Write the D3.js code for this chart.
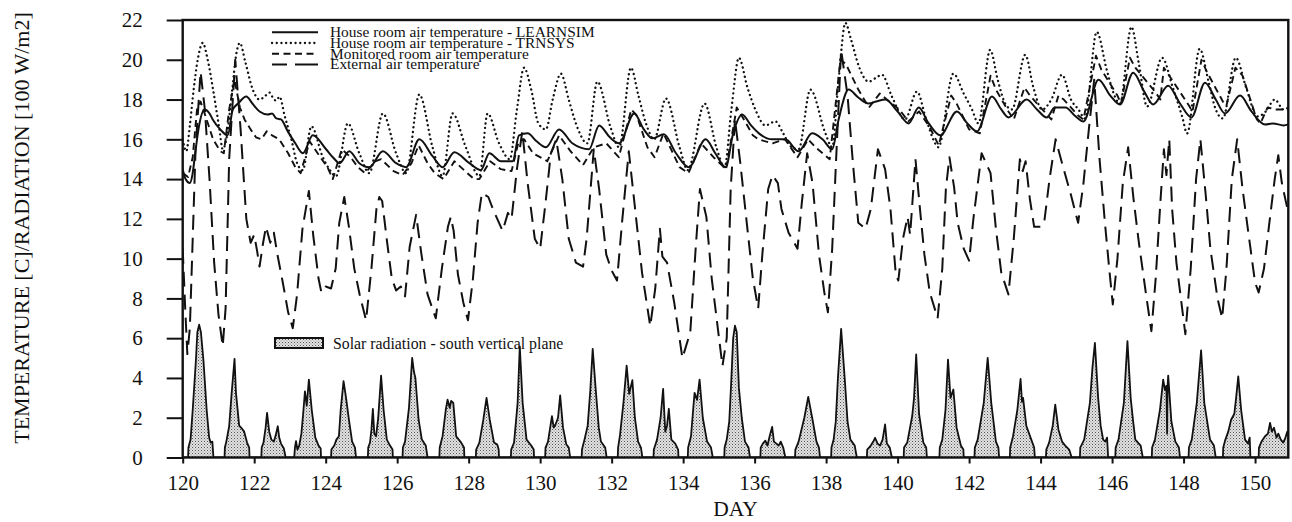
<!DOCTYPE html>
<html>
<head>
<meta charset="utf-8">
<script src="https://cdn.jsdelivr.net/npm/d3@7/dist/d3.min.js"></script>
<style>
  html, body { margin: 0; padding: 0; background: #fff; }
  svg { display: block; }
  text { font-family: "Liberation Serif", "Times New Roman", serif; fill: #111; }
</style>
</head>
<body>
<svg id="chart" width="1292" height="522"></svg>
<script>
// ---------------- DATA ----------------
const xTicks = [120,122,124,126,128,130,132,134,136,138,140,142,144,146,148,150];
const yTicks = [0,2,4,6,8,10,12,14,16,18,20,22];
const xDomain = [120, 150.93];
const yDomain = [0, 22];

const seriesNames = [
  "House room air temperature - LEARNSIM",
  "House room air temperature - TRNSYS",
  "Monitored room air temperature",
  "External air temperature"
];
const solarName = "Solar radiation - south vertical plane";
const xTitle = "DAY";
const yTitle = "TEMPERATURE [C]/RADIATION [100 W/m2]";

// [day, value]
const learnsim = [[120.0,14.5],[120.08,14.0],[120.2,13.8],[120.27,14.2],[120.35,15.3],[120.45,16.6],[120.61,17.5],[120.75,17.3],[120.84,17.0],[121.05,16.5],[121.26,16.2],[121.4,17.5],[121.55,17.8],[121.78,18.15],[121.95,17.8],[122.15,17.4],[122.38,17.25],[122.5,17.3],[122.62,17.05],[122.75,17.0],[122.94,16.4],[123.15,15.8],[123.36,15.3],[123.64,16.2],[124.01,15.5],[124.2,15.1],[124.39,14.8],[124.66,15.4],[124.94,14.8],[125.22,14.6],[125.6,15.4],[125.97,14.8],[126.25,14.6],[126.62,16.0],[126.99,15.15],[127.27,14.6],[127.6,15.35],[128.02,14.8],[128.34,14.45],[128.58,15.3],[128.9,14.9],[129.23,14.9],[129.41,16.2],[129.65,16.3],[129.9,15.9],[130.16,15.6],[130.53,16.5],[130.9,15.8],[131.37,15.5],[131.65,16.7],[131.95,16.1],[132.21,15.8],[132.63,17.3],[132.9,16.5],[133.14,16.05],[133.46,16.25],[133.8,15.3],[134.16,14.6],[134.63,16.0],[134.9,15.3],[135.19,14.6],[135.4,16.3],[135.65,17.25],[135.9,16.7],[136.12,16.3],[136.49,16.0],[136.86,16.0],[137.23,15.4],[137.61,16.3],[137.9,16.0],[138.17,15.5],[138.35,17.0],[138.63,18.5],[138.9,18.1],[139.19,17.8],[139.4,17.9],[139.66,18.0],[140.0,17.4],[140.31,16.8],[140.59,17.6],[140.87,16.8],[141.19,16.2],[141.66,17.4],[141.95,16.8],[142.22,16.4],[142.64,18.15],[142.9,17.5],[143.1,17.1],[143.61,18.0],[143.9,17.5],[144.17,17.1],[144.4,17.6],[144.7,17.6],[144.95,17.2],[145.2,16.9],[145.62,19.0],[145.95,18.2],[146.22,17.75],[146.59,19.35],[146.9,18.4],[147.15,17.75],[147.57,18.7],[147.9,17.8],[148.22,17.1],[148.6,18.85],[148.9,18.0],[149.16,17.3],[149.58,18.2],[149.9,17.4],[150.28,16.75],[150.5,16.8],[150.8,16.7],[150.93,16.75]];

const trnsys = [[120.0,16.0],[120.1,15.4],[120.2,16.7],[120.3,18.4],[120.42,20.0],[120.56,20.85],[120.7,20.0],[120.85,18.5],[121.02,16.6],[121.12,15.5],[121.22,16.0],[121.38,18.4],[121.5,20.3],[121.6,20.85],[121.75,19.9],[121.96,18.5],[122.15,18.0],[122.29,18.15],[122.43,18.35],[122.55,18.0],[122.62,17.95],[122.71,18.15],[122.85,17.2],[123.04,16.0],[123.2,14.8],[123.36,14.45],[123.6,16.65],[123.92,15.1],[124.1,14.5],[124.29,14.15],[124.62,16.8],[124.94,15.3],[125.22,14.3],[125.6,17.3],[125.97,15.3],[126.25,14.3],[126.62,18.25],[126.99,15.6],[127.27,14.15],[127.55,17.3],[127.92,15.6],[128.3,14.15],[128.53,17.3],[128.85,15.8],[129.15,15.0],[129.35,17.5],[129.55,19.6],[129.75,18.5],[129.95,16.8],[130.16,16.5],[130.35,18.0],[130.58,19.3],[130.8,18.0],[131.0,16.8],[131.32,15.8],[131.6,18.9],[131.97,16.6],[132.21,15.6],[132.54,19.6],[132.75,18.2],[132.96,16.8],[133.19,16.0],[133.52,18.05],[133.9,15.6],[134.13,14.45],[134.6,17.8],[134.93,15.6],[135.16,14.6],[135.35,17.5],[135.56,20.1],[135.8,18.6],[136.02,17.5],[136.3,16.7],[136.58,16.9],[136.8,16.3],[137.04,15.6],[137.23,15.5],[137.56,18.5],[137.98,16.3],[138.17,15.6],[138.35,19.0],[138.54,21.85],[138.7,21.0],[138.92,19.65],[139.19,18.9],[139.4,19.1],[139.56,19.25],[139.84,18.15],[140.21,17.0],[140.54,18.4],[140.8,17.0],[141.05,15.8],[141.14,15.6],[141.56,19.3],[141.85,18.3],[142.08,17.5],[142.26,16.8],[142.59,20.5],[142.8,19.0],[143.01,17.8],[143.2,17.5],[143.57,20.25],[143.8,18.6],[144.04,17.5],[144.3,18.0],[144.6,19.25],[144.85,18.0],[145.06,17.5],[145.24,17.05],[145.57,21.4],[145.85,19.5],[146.08,18.15],[146.22,17.8],[146.54,21.65],[146.75,19.8],[146.98,17.65],[147.4,20.1],[147.7,18.6],[147.96,17.15],[148.1,16.3],[148.45,20.55],[148.7,18.9],[148.9,17.5],[149.1,17.05],[149.46,20.1],[149.75,18.6],[150.07,17.15],[150.3,17.4],[150.55,18.0],[150.8,17.5],[150.93,17.6]];

const monitored = [[120.0,14.3],[120.15,14.1],[120.28,15.1],[120.4,17.5],[120.5,17.9],[120.65,17.1],[120.85,16.0],[121.05,15.4],[121.15,15.3],[121.3,17.5],[121.45,19.0],[121.6,17.6],[121.73,17.0],[121.9,16.5],[122.05,16.1],[122.2,16.0],[122.35,16.4],[122.5,16.2],[122.7,16.0],[122.95,15.3],[123.15,14.6],[123.3,14.3],[123.55,15.9],[123.85,15.1],[124.05,14.6],[124.2,14.0],[124.45,15.5],[124.7,15.1],[124.9,14.6],[125.1,14.3],[125.4,14.9],[125.55,15.0],[125.9,14.4],[126.15,14.2],[126.4,14.8],[126.6,15.7],[126.85,14.8],[127.05,14.3],[127.3,14.0],[127.6,14.9],[127.9,14.4],[128.15,14.0],[128.3,14.0],[128.6,14.9],[128.9,14.5],[129.2,14.4],[129.4,15.9],[129.55,16.0],[129.8,15.3],[130.2,14.9],[130.53,16.2],[130.85,15.4],[131.2,14.7],[131.5,15.6],[131.85,15.8],[132.2,15.1],[132.55,17.5],[132.7,17.2],[133.0,15.6],[133.2,15.1],[133.45,16.3],[133.9,14.6],[134.15,14.3],[134.5,15.8],[134.85,15.1],[135.2,14.5],[135.5,17.6],[135.7,17.0],[135.95,16.2],[136.1,16.0],[136.5,15.8],[136.85,16.0],[137.2,15.1],[137.5,16.0],[137.7,15.6],[138.1,15.0],[138.4,20.0],[138.55,19.8],[138.9,18.5],[139.2,17.6],[139.5,18.3],[139.7,18.0],[140.05,17.5],[140.3,16.9],[140.6,17.4],[140.9,16.6],[141.15,15.7],[141.5,18.2],[141.65,17.8],[142.0,16.5],[142.3,16.3],[142.6,19.2],[142.75,18.5],[143.1,17.4],[143.25,17.0],[143.55,18.6],[143.7,18.2],[144.1,17.4],[144.3,17.0],[144.5,18.2],[144.65,18.0],[145.05,17.2],[145.2,17.0],[145.55,20.2],[145.7,19.5],[146.15,18.2],[146.25,17.8],[146.5,20.1],[146.65,19.6],[147.2,18.4],[147.35,18.0],[147.45,19.6],[147.6,19.2],[148.15,17.7],[148.25,17.4],[148.5,20.0],[148.65,19.4],[149.1,17.9],[149.2,17.7],[149.45,19.6],[149.65,19.2],[150.05,17.0],[150.15,16.8],[150.35,17.6],[150.6,17.5],[150.93,17.5]];

const external = [[120.0,10.5],[120.07,7.5],[120.13,5.2],[120.2,6.5],[120.28,11.0],[120.36,15.5],[120.5,19.4],[120.62,17.5],[120.75,14.0],[120.88,9.8],[121.0,7.2],[121.12,5.6],[121.2,7.5],[121.3,15.0],[121.47,20.0],[121.62,16.5],[121.78,12.0],[121.9,10.8],[122.0,11.2],[122.08,10.4],[122.15,9.6],[122.25,10.8],[122.33,11.6],[122.45,10.8],[122.55,11.3],[122.65,10.2],[122.8,8.8],[122.95,7.3],[123.08,6.5],[123.2,8.2],[123.35,11.5],[123.53,13.4],[123.65,11.2],[123.8,9.0],[123.88,8.3],[124.0,8.6],[124.15,8.5],[124.28,9.5],[124.38,11.8],[124.52,13.1],[124.65,11.6],[124.8,9.5],[124.95,8.2],[125.13,6.9],[125.28,9.5],[125.42,12.5],[125.5,13.1],[125.58,12.9],[125.72,10.8],[125.85,9.0],[125.97,8.4],[126.1,8.6],[126.22,8.1],[126.35,10.6],[126.53,12.2],[126.68,10.2],[126.85,8.2],[127.08,7.0],[127.25,9.5],[127.42,11.6],[127.5,12.1],[127.58,11.4],[127.7,9.2],[127.85,7.8],[127.98,6.9],[128.12,9.0],[128.25,11.8],[128.37,13.3],[128.55,13.1],[128.7,12.4],[128.95,11.4],[129.1,12.3],[129.2,12.0],[129.35,14.5],[129.5,16.4],[129.65,13.8],[129.85,11.0],[130.0,10.5],[130.15,12.8],[130.3,15.3],[130.45,16.0],[130.62,14.0],[130.8,11.0],[131.0,9.8],[131.2,9.6],[131.3,11.0],[131.5,15.5],[131.65,13.5],[131.85,10.2],[132.0,9.4],[132.15,8.9],[132.3,12.0],[132.48,15.4],[132.65,12.6],[132.85,9.3],[133.08,6.6],[133.22,8.5],[133.35,11.5],[133.42,10.1],[133.55,9.8],[133.75,7.8],[133.98,5.0],[134.2,6.3],[134.35,10.5],[134.47,13.5],[134.65,12.1],[134.8,9.0],[134.95,6.8],[135.1,4.6],[135.22,6.0],[135.33,13.5],[135.45,17.0],[135.6,14.8],[135.78,11.8],[135.95,9.0],[136.1,7.5],[136.22,10.3],[136.38,13.5],[136.5,14.2],[136.65,13.8],[136.75,12.5],[136.95,11.3],[137.2,10.5],[137.32,12.8],[137.47,15.3],[137.62,13.8],[137.8,10.2],[137.95,8.3],[138.05,7.3],[138.17,10.5],[138.28,15.0],[138.42,20.5],[138.6,18.2],[138.75,14.8],[138.9,11.8],[139.1,11.5],[139.25,12.5],[139.45,15.5],[139.65,14.5],[139.8,12.5],[139.95,9.2],[140.02,8.9],[140.15,11.0],[140.28,12.1],[140.35,11.2],[140.5,15.0],[140.62,12.6],[140.75,10.2],[140.9,8.3],[141.12,7.0],[141.25,9.5],[141.35,13.5],[141.45,15.1],[141.58,13.6],[141.68,11.8],[141.85,10.5],[142.0,9.9],[142.12,12.0],[142.35,15.3],[142.6,14.3],[142.75,11.5],[142.9,9.3],[143.1,8.2],[143.25,11.0],[143.42,15.0],[143.5,14.4],[143.58,14.9],[143.7,13.0],[143.82,11.6],[144.0,11.6],[144.1,11.8],[144.25,14.0],[144.42,16.0],[144.6,14.8],[144.85,13.2],[145.05,11.8],[145.2,13.8],[145.35,16.5],[145.5,19.0],[145.65,15.0],[145.8,11.8],[145.92,9.5],[146.02,7.7],[146.15,10.0],[146.3,13.8],[146.45,15.6],[146.6,13.0],[146.75,10.8],[146.95,8.2],[147.1,6.35],[147.22,9.0],[147.35,12.8],[147.45,15.5],[147.52,14.2],[147.6,16.0],[147.68,12.5],[147.8,9.8],[148.05,6.2],[148.2,9.5],[148.35,14.0],[148.47,16.0],[148.62,13.2],[148.75,10.5],[148.95,8.0],[149.08,7.0],[149.2,9.5],[149.35,14.0],[149.5,16.0],[149.65,13.5],[149.85,10.8],[150.0,8.8],[150.1,8.3],[150.25,9.5],[150.4,11.8],[150.55,14.0],[150.65,15.2],[150.75,13.8],[150.93,12.3]];

const solar = [[120.0,0],[120.15,0],[120.16,0.5],[120.22,0.9],[120.28,2.4],[120.37,4.9],[120.41,6.3],[120.46,6.68],[120.51,6.3],[120.58,4.9],[120.67,2.4],[120.74,1.0],[120.78,0.75],[120.83,0.8],[120.86,0],
[121.17,0],[121.18,0.5],[121.22,0.8],[121.3,1.57],[121.37,3.25],[121.45,4.96],[121.49,3.25],[121.58,1.6],[121.66,1.45],[121.72,1.3],[121.8,0.75],[121.86,0.5],[121.87,0],
[122.2,0],[122.21,0.5],[122.26,0.75],[122.32,1.5],[122.36,2.24],[122.42,1.3],[122.48,0.9],[122.55,0.8],[122.6,1.1],[122.66,1.57],[122.7,1.0],[122.75,0.7],[122.83,0.45],[122.88,0],
[123.12,0],[123.14,0.5],[123.17,0.82],[123.21,0.4],[123.26,0.6],[123.32,1.2],[123.37,2.2],[123.42,3.33],[123.47,2.6],[123.53,3.92],[123.61,2.4],[123.71,1.0],[123.8,0.6],[123.86,0.45],[123.87,0],
[124.15,0],[124.16,0.4],[124.24,0.6],[124.3,0.9],[124.37,1.07],[124.42,2.4],[124.5,3.84],[124.57,3.0],[124.65,1.9],[124.74,0.8],[124.82,0.5],[124.85,0],
[125.18,0],[125.19,0.5],[125.24,0.75],[125.28,1.4],[125.32,2.44],[125.36,1.2],[125.41,1.07],[125.47,2.0],[125.55,4.12],[125.62,2.4],[125.71,0.9],[125.8,0.6],[125.87,0.4],[125.88,0],
[126.15,0],[126.16,0.5],[126.22,0.8],[126.33,2.5],[126.42,5.01],[126.47,4.3],[126.51,4.0],[126.6,1.9],[126.69,0.9],[126.8,0.6],[126.85,0],
[127.18,0],[127.19,0.5],[127.27,1.07],[127.36,2.4],[127.41,2.91],[127.47,2.5],[127.51,2.85],[127.57,2.75],[127.65,1.07],[127.79,0.75],[127.87,0.5],[127.88,0],
[128.2,0],[128.21,0.4],[128.3,0.75],[128.41,1.9],[128.5,3.0],[128.59,1.9],[128.71,0.75],[128.8,0.65],[128.84,0.4],[128.85,0],
[129.18,0],[129.19,0.4],[129.27,0.75],[129.37,2.75],[129.43,5.59],[129.51,2.75],[129.62,0.9],[129.75,0.6],[129.82,0.4],[129.83,0],
[130.14,0],[130.15,0.5],[130.22,0.8],[130.28,1.5],[130.33,2.08],[130.38,1.5],[130.43,1.66],[130.5,2.0],[130.56,3.12],[130.64,1.5],[130.73,0.67],[130.8,0.5],[130.84,0],
[131.16,0],[131.17,0.4],[131.24,0.9],[131.33,1.6],[131.4,3.3],[131.47,5.46],[131.56,3.3],[131.64,1.5],[131.7,0.8],[131.82,0.5],[131.86,0],
[132.17,0],[132.18,0.5],[132.23,1.07],[132.33,2.75],[132.42,4.62],[132.49,3.2],[132.58,3.89],[132.65,2.0],[132.74,0.8],[132.82,0.5],[132.86,0],
[133.17,0],[133.18,0.4],[133.27,0.9],[133.37,2.0],[133.44,3.45],[133.5,1.3],[133.55,1.6],[133.6,2.45],[133.67,0.9],[133.78,0.7],[133.86,0.4],[133.87,0],
[134.13,0],[134.14,0.5],[134.22,1.07],[134.28,2.4],[134.32,3.25],[134.39,2.9],[134.46,3.92],[134.55,2.0],[134.67,0.8],[134.78,0.5],[134.83,0],
[135.15,0],[135.16,0.5],[135.22,0.9],[135.29,1.8],[135.34,3.6],[135.4,6.0],[135.45,6.63],[135.5,6.3],[135.56,3.5],[135.64,2.0],[135.73,0.8],[135.83,0.5],[135.87,0],
[136.16,0],[136.17,0.5],[136.23,0.7],[136.3,0.85],[136.36,0.6],[136.42,1.07],[136.49,1.54],[136.54,0.8],[136.61,0.7],[136.67,0.6],[136.73,0.8],[136.8,0.5],[136.86,0],
[137.13,0],[137.14,0.4],[137.23,0.8],[137.39,2.0],[137.5,3.05],[137.61,2.0],[137.73,0.8],[137.8,0.5],[137.83,0],
[138.14,0],[138.15,0.5],[138.21,0.9],[138.27,1.8],[138.33,4.0],[138.42,6.47],[138.52,4.0],[138.6,1.8],[138.68,0.9],[138.8,0.6],[138.86,0],
[139.14,0],[139.15,0.4],[139.25,0.6],[139.32,0.8],[139.37,0.99],[139.44,0.7],[139.51,0.6],[139.58,0.9],[139.65,1.66],[139.7,0.7],[139.78,0.5],[139.84,0],
[140.17,0],[140.18,0.5],[140.27,0.75],[140.41,2.1],[140.46,3.0],[140.52,5.18],[140.6,2.2],[140.72,0.75],[140.8,0.5],[140.82,0],
[141.17,0],[141.18,0.5],[141.25,0.9],[141.34,2.4],[141.41,4.92],[141.48,3.0],[141.56,3.42],[141.65,1.5],[141.77,0.6],[141.84,0.4],[141.85,0],
[142.15,0],[142.16,0.5],[142.24,0.9],[142.41,2.75],[142.52,5.01],[142.62,2.75],[142.75,0.8],[142.82,0.5],[142.84,0],
[143.14,0],[143.15,0.5],[143.23,1.07],[143.35,2.4],[143.44,3.95],[143.48,2.8],[143.51,3.0],[143.6,1.6],[143.74,0.9],[143.82,0.5],[143.84,0],
[144.15,0],[144.16,0.4],[144.24,0.75],[144.34,1.6],[144.41,2.66],[144.5,1.4],[144.6,0.8],[144.69,0.6],[144.8,0.4],[144.87,0],
[145.1,0],[145.11,0.5],[145.22,0.9],[145.38,2.75],[145.45,4.5],[145.52,5.76],[145.61,3.0],[145.68,1.6],[145.75,0.9],[145.81,0.8],[145.86,1.0],[145.89,0],
[146.09,0],[146.1,0.5],[146.18,0.9],[146.33,2.75],[146.43,5.85],[146.52,3.0],[146.59,1.8],[146.65,0.9],[146.8,0.6],[146.86,0],
[147.11,0],[147.12,0.5],[147.2,0.9],[147.34,2.4],[147.43,3.92],[147.48,3.4],[147.52,3.6],[147.54,1.2],[147.55,3.5],[147.57,4.12],[147.66,1.8],[147.77,0.8],[147.87,0.5],[147.9,0],
[148.14,0],[148.15,0.5],[148.23,0.9],[148.37,2.75],[148.49,5.39],[148.58,2.75],[148.74,0.9],[148.85,0.6],[148.9,0],
[149.1,0],[149.11,0.5],[149.17,0.9],[149.25,1.3],[149.33,1.9],[149.42,2.2],[149.47,3.0],[149.53,4.08],[149.61,2.4],[149.72,0.9],[149.8,0.7],[149.85,1.0],[149.87,0],
[150.1,0],[150.11,0.5],[150.18,0.8],[150.28,1.07],[150.36,1.2],[150.42,1.74],[150.47,1.3],[150.53,1.5],[150.6,1.0],[150.65,1.2],[150.72,0.9],[150.79,0.75],[150.85,1.0],[150.9,1.3],[150.93,1.1]];

// ---------------- CHART ----------------
const svg = d3.select("#chart");
const x = d3.scaleLinear().domain(xDomain).range([182.7, 1288.3]);
const y = d3.scaleLinear().domain(yDomain).range([457.5, 20]);

const defs = svg.append("defs");
const pat = defs.append("pattern").attr("id","stip").attr("patternUnits","userSpaceOnUse")
  .attr("width",3).attr("height",3);
pat.append("rect").attr("width",3).attr("height",3).attr("fill","#e2e2e2");
pat.append("rect").attr("x",0).attr("y",0).attr("width",1).attr("height",1).attr("fill","#555");
pat.append("rect").attr("x",1.5).attr("y",1.5).attr("width",1).attr("height",1).attr("fill","#888");
defs.append("clipPath").attr("id","plotclip").append("rect")
  .attr("x", x(xDomain[0])).attr("y", y(yDomain[1]))
  .attr("width", x(xDomain[1]) - x(xDomain[0])).attr("height", y(0) - y(yDomain[1]));

const plot = svg.append("g").attr("clip-path","url(#plotclip)");

// solar area
const area = d3.area().x(d => x(d[0])).y0(y(0)).y1(d => y(d[1]));
const sline = d3.line().x(d => x(d[0])).y(d => y(d[1]));
plot.append("path").datum(solar).attr("d", area).attr("fill","url(#stip)");
plot.append("path").datum(solar).attr("d", sline).attr("fill","none")
  .attr("stroke","#111").attr("stroke-width",1.8).attr("stroke-linejoin","round");

const styles = [
  {data: learnsim, dash: null, w: 2.0, cap: "butt", curve: d3.curveMonotoneX},
  {data: trnsys, dash: "0.1,4.6", w: 2.3, cap: "round", curve: d3.curveMonotoneX},
  {data: monitored, dash: "7,4.5", w: 1.9, cap: "butt", curve: d3.curveLinear},
  {data: external, dash: "15,8", w: 2.0, cap: "butt", curve: d3.curveLinear}
];
// draw order: external, monitored, trnsys, learnsim
[3,2,1,0].forEach(i => {
  const s = styles[i];
  const ln = d3.line().x(d => x(d[0])).y(d => y(d[1])).curve(s.curve);
  const p = plot.append("path").datum(s.data).attr("d", ln)
    .attr("fill","none").attr("stroke","#111").attr("stroke-width", s.w)
    .attr("stroke-linecap", s.cap).attr("stroke-linejoin","round");
  if (s.dash) p.attr("stroke-dasharray", s.dash);
});

// frame
svg.append("rect").attr("x", x(xDomain[0])).attr("y", y(yDomain[1]))
  .attr("width", x(xDomain[1]) - x(xDomain[0])).attr("height", y(0) - y(yDomain[1]))
  .attr("fill","none").attr("stroke","#111").attr("stroke-width",2.4);

// axes
const yAxis = d3.axisLeft(y).tickValues(yTicks).tickSize(16).tickPadding(24).tickFormat(d3.format("d"));
const gy = svg.append("g").attr("transform", `translate(${x(xDomain[0])},0)`).call(yAxis);
gy.select(".domain").remove();
gy.selectAll(".tick line").attr("stroke","#111").attr("stroke-width",2);
gy.selectAll(".tick text").attr("font-size", 21).attr("font-family","Liberation Serif, serif").attr("fill","#111");

const xAxis = d3.axisBottom(x).tickValues(xTicks).tickSize(6).tickPadding(11.5).tickFormat(d3.format("d"));
const gx = svg.append("g").attr("transform", `translate(0,${y(0)})`).call(xAxis);
gx.select(".domain").remove();
gx.selectAll(".tick line").attr("stroke","#111").attr("stroke-width",2);
gx.selectAll(".tick text").attr("font-size", 21).attr("font-family","Liberation Serif, serif").attr("fill","#111");

// titles
svg.append("text").attr("x", (x(xDomain[0]) + x(xDomain[1]))/2).attr("y", 516)
  .attr("text-anchor","middle").attr("font-size",21.5).text(xTitle);
svg.append("text").attr("transform","translate(29,228) rotate(-90)")
  .attr("text-anchor","middle").attr("font-size",22).text(yTitle);

// legend
const lg = svg.append("g");
const rowsY = [32.3, 43.0, 53.7, 64.4];
seriesNames.forEach((name, i) => {
  const s = styles[i];
  const l = lg.append("line").attr("x1",272).attr("x2",318).attr("y1",rowsY[i]).attr("y2",rowsY[i])
    .attr("stroke","#111").attr("stroke-width", s.w).attr("stroke-linecap", s.cap);
  if (s.dash) l.attr("stroke-dasharray", i === 3 ? "15,8,23" : s.dash);
  lg.append("text").attr("x",330).attr("y",rowsY[i] + 4.8).attr("font-size",15.4).text(name);
});
lg.append("rect").attr("x",275).attr("y",338).attr("width",48).attr("height",10)
  .attr("fill","url(#stip)").attr("stroke","#111").attr("stroke-width",2);
lg.append("text").attr("x",333).attr("y",348.5).attr("font-size",15.8).text(solarName);
</script>
</body>
</html>
